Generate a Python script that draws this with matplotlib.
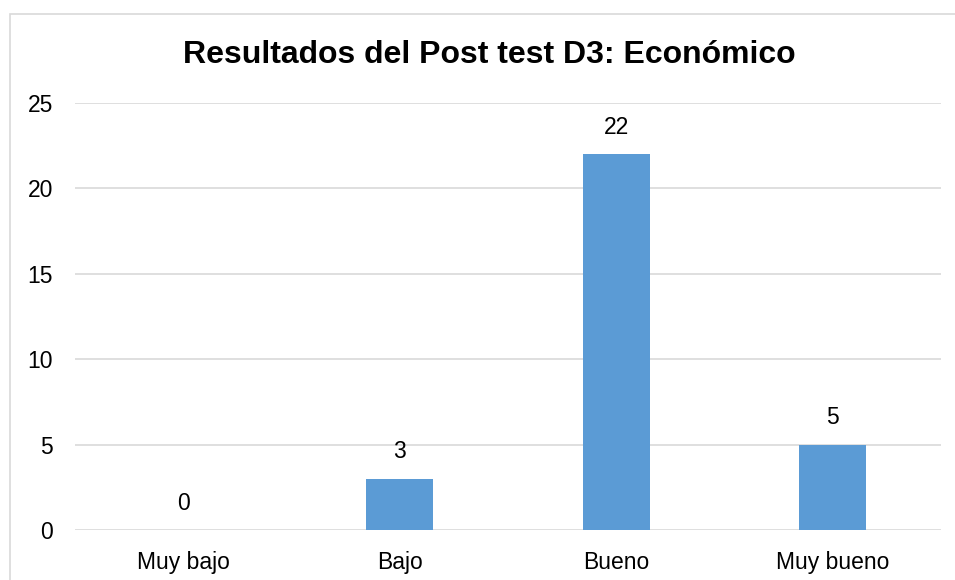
import matplotlib

matplotlib.use("Agg")
import matplotlib.pyplot as plt
from matplotlib.patches import Rectangle

categories = ["Muy bajo", "Bajo", "Bueno", "Muy bueno"]
values = [0, 3, 22, 5]
y_ticks = [0, 5, 10, 15, 20, 25]
title = "Resultados del Post test D3: Económico"

plt.rcParams["font.family"] = ["Liberation Sans", "DejaVu Sans"]

W, H = 955, 580
fig = plt.figure(figsize=(W / 100, H / 100), dpi=100)

# chart area border (only top and left visible in the crop)
fig.patches.append(Rectangle((10 / W, -0.1), 1.2, 1 - 14 / H + 0.1,
                             transform=fig.transFigure, fill=False,
                             edgecolor="#D9D9D9", linewidth=1.2))

ax = fig.add_axes([75 / W, 1 - 530 / H, (941 - 75) / W, (530 - 103) / H])
x = range(len(categories))
bars = ax.bar(x, values, width=0.31, color="#5B9BD5", zorder=3)

for rect, v in zip(bars, values):
    ax.annotate(str(v), (rect.get_x() + rect.get_width() / 2, v),
                xytext=(0, 11), textcoords="offset points",
                ha="center", va="bottom", fontsize=16.5, color="#000000")

ax.set_xlim(-0.5, len(categories) - 0.5)
ax.set_ylim(0, 25)
ax.set_yticks(y_ticks)
ax.set_xticks(list(x))
ax.set_xticklabels(categories)
ax.tick_params(axis="both", length=0, labelsize=16.5, colors="#000000")
ax.tick_params(axis="y", pad=16)
ax.tick_params(axis="x", pad=15)
ax.grid(axis="y", color="#D9D9D9", linewidth=1.2, zorder=0)
for s in ax.spines.values():
    s.set_visible(False)

fig.text(489.5 / W, 1 - 63 / H, title, ha="center", va="baseline",
         fontsize=23, fontweight="bold", color="#000000")

fig.savefig("out.png", dpi=100)
